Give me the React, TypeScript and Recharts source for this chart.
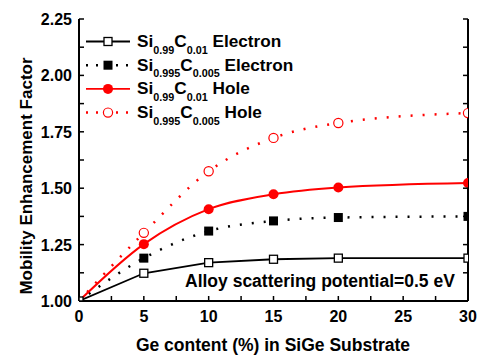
import { LineChart, Line, XAxis, YAxis } from 'recharts';

// Ge content (%) and mobility enhancement factor per curve
const geContent = [0, 5, 10, 15, 20, 30];
const electronC01 = [1.0, 1.123, 1.17, 1.185, 1.19, 1.19];
const electronC005 = [1.0, 1.19, 1.31, 1.355, 1.37, 1.375];
const holeC01 = [1.0, 1.252, 1.407, 1.473, 1.503, 1.523];
const holeC005 = [1.0, 1.302, 1.575, 1.723, 1.789, 1.833];

const xTicks = [0, 2.5, 5, 7.5, 10, 12.5, 15, 17.5, 20, 22.5, 25, 27.5, 30];
const yTicks = [1, 1.125, 1.25, 1.375, 1.5, 1.625, 1.75, 1.875, 2, 2.125, 2.25];

const data = geContent.map((x, i) => ({
  x,
  e1: electronC01[i],
  e2: electronC005[i],
  h1: holeC01[i],
  h2: holeC005[i],
}));

const FONT = '"Liberation Sans", Arial, Helvetica, sans-serif';
const RED = '#ff0000';
const TICK = 5;

const BottomTick = ({ x, y, payload }: any) => {
  const major = payload.value % 5 === 0;
  return (
    <g>
      <line x1={x} x2={x} y1={y} y2={y - TICK} stroke="#000" strokeWidth={1.5} />
      {major && (
        <text x={x} y={y + 21} textAnchor="middle" fontSize={16} fontWeight="bold" fontFamily={FONT} fill="#000">
          {payload.value}
        </text>
      )}
    </g>
  );
};

const TopTick = ({ x, y }: any) => (
  <line x1={x} x2={x} y1={y} y2={y + TICK} stroke="#000" strokeWidth={1.5} />
);

const LeftTick = ({ x, y, payload }: any) => {
  const major = Math.abs((payload.value * 4) % 1) < 1e-6;
  return (
    <g>
      <line x1={x} x2={x + TICK} y1={y} y2={y} stroke="#000" strokeWidth={1.5} />
      {major && (
        <text x={x - 7} y={y + 6} textAnchor="end" fontSize={16} fontWeight="bold" fontFamily={FONT} fill="#000">
          {payload.value.toFixed(2)}
        </text>
      )}
    </g>
  );
};

const RightTick = ({ x, y }: any) => (
  <line x1={x} x2={x - TICK} y1={y} y2={y} stroke="#000" strokeWidth={1.5} />
);

const openSquare = (props: any) => (
  <rect key={props.index} x={props.cx - 4} y={props.cy - 4} width={8} height={8} fill="#fff" stroke="#000" strokeWidth={1.3} />
);
const filledSquare = (props: any) =>
  props.index === 0 ? <g key={props.index} /> : (
    <rect key={props.index} x={props.cx - 4.5} y={props.cy - 4.5} width={9} height={9} fill="#000" />
  );
const filledCircle = (props: any) =>
  props.index === 0 ? <g key={props.index} /> : (
    <circle key={props.index} cx={props.cx} cy={props.cy} r={5} fill={RED} />
  );
const openCircle = (props: any) =>
  props.index === 0 ? <g key={props.index} /> : (
    <circle key={props.index} cx={props.cx} cy={props.cy} r={4.6} fill="#fff" stroke={RED} strokeWidth={1.2} />
  );

const legendRows = [
  { a: '0.99', b: '0.01', kind: 'Electron', color: '#000', dash: undefined, marker: 'openSquare' },
  { a: '0.995', b: '0.005', kind: 'Electron', color: '#000', dash: '2 8', marker: 'filledSquare' },
  { a: '0.99', b: '0.01', kind: 'Hole', color: RED, dash: undefined, marker: 'filledCircle' },
  { a: '0.995', b: '0.005', kind: 'Hole', color: RED, dash: '2 8', marker: 'openCircle' },
];

function Overlay() {
  return (
    <svg width={482} height={355} style={{ position: 'absolute', left: 0, top: 0, pointerEvents: 'none' }} fontFamily={FONT}>
      {legendRows.map((r, i) => {
        const cy = 41.5 + i * 23.7;
        return (
          <g key={i}>
            <line x1={86} x2={130} y1={cy} y2={cy} stroke={r.color} strokeWidth={r.dash ? 2.5 : 1.8} strokeDasharray={r.dash} />
            {r.marker === 'openSquare' && <rect x={104} y={cy - 4} width={8} height={8} fill="#fff" stroke="#000" strokeWidth={1.3} />}
            {r.marker === 'filledSquare' && <rect x={103.5} y={cy - 4.5} width={9} height={9} fill="#000" />}
            {r.marker === 'filledCircle' && <circle cx={108} cy={cy} r={5} fill={RED} />}
            {r.marker === 'openCircle' && <circle cx={108} cy={cy} r={4.6} fill="#fff" stroke={RED} strokeWidth={1.2} />}
            <text x={137} y={cy + 5.5} fontSize={17.2} fontWeight="bold" fill="#000">
              Si
              <tspan fontSize={10.8} dy={6.5}>{r.a}</tspan>
              <tspan dy={-6.5}>C</tspan>
              <tspan fontSize={10.8} dy={6.5}>{r.b}</tspan>
              <tspan dy={-6.5}>{' ' + r.kind}</tspan>
            </text>
          </g>
        );
      })}
      <text x={185} y={287} fontSize={17.5} fontWeight="bold" fill="#000">
        Alloy scattering potential=0.5 eV
      </text>
      <text x={273} y={351} textAnchor="middle" fontSize={17.5} fontWeight="bold" fill="#000">
        Ge content (%) in SiGe Substrate
      </text>
      <text x={32} y={176} textAnchor="middle" fontSize={17} fontWeight="bold" fill="#000" transform="rotate(-90 32 176)">
        Mobility Enhancement Factor
      </text>
    </svg>
  );
}

export default function App() {
  return (
    <div style={{ position: 'absolute', left: 0, top: 0, width: 482, height: 355, background: '#fff' }}>
      <LineChart width={482} height={355} data={data} margin={{ top: 19, right: 0, bottom: 0, left: 0 }}>
        <XAxis
          dataKey="x"
          type="number"
          domain={[0, 30]}
          ticks={xTicks}
          interval={0}
          height={54}
          tickSize={0}
          tickMargin={0}
          tickLine={false}
          tick={<BottomTick />}
          axisLine={{ stroke: '#000', strokeWidth: 2 }}
          allowDataOverflow
        />
        <XAxis
          xAxisId="top"
          orientation="top"
          dataKey="x"
          type="number"
          domain={[0, 30]}
          ticks={xTicks}
          interval={0}
          height={0}
          tickSize={0}
          tickMargin={0}
          tickLine={false}
          tick={<TopTick />}
          axisLine={{ stroke: '#000', strokeWidth: 2 }}
          allowDataOverflow
        />
        <YAxis
          type="number"
          domain={[1, 2.25]}
          ticks={yTicks}
          interval={0}
          width={79}
          tickSize={0}
          tickMargin={0}
          tickLine={false}
          tick={<LeftTick />}
          axisLine={{ stroke: '#000', strokeWidth: 2 }}
          allowDataOverflow
        />
        <YAxis
          yAxisId="right"
          orientation="right"
          type="number"
          domain={[1, 2.25]}
          ticks={yTicks}
          interval={0}
          width={14}
          tickSize={0}
          tickMargin={0}
          tickLine={false}
          tick={<RightTick />}
          axisLine={{ stroke: '#000', strokeWidth: 2 }}
          allowDataOverflow
        />
        <Line type="linear" dataKey="e1" stroke="#000" strokeWidth={1.8} dot={openSquare} isAnimationActive={false} />
        <Line type="monotone" dataKey="e2" stroke="#000" strokeWidth={2.5} strokeDasharray="2 10" dot={filledSquare} isAnimationActive={false} />
        <Line type="monotone" dataKey="h1" stroke={RED} strokeWidth={2} dot={filledCircle} isAnimationActive={false} />
        <Line type="monotone" dataKey="h2" stroke={RED} strokeWidth={2.5} strokeDasharray="2 10" dot={openCircle} isAnimationActive={false} />
      </LineChart>
      <Overlay />
    </div>
  );
}
